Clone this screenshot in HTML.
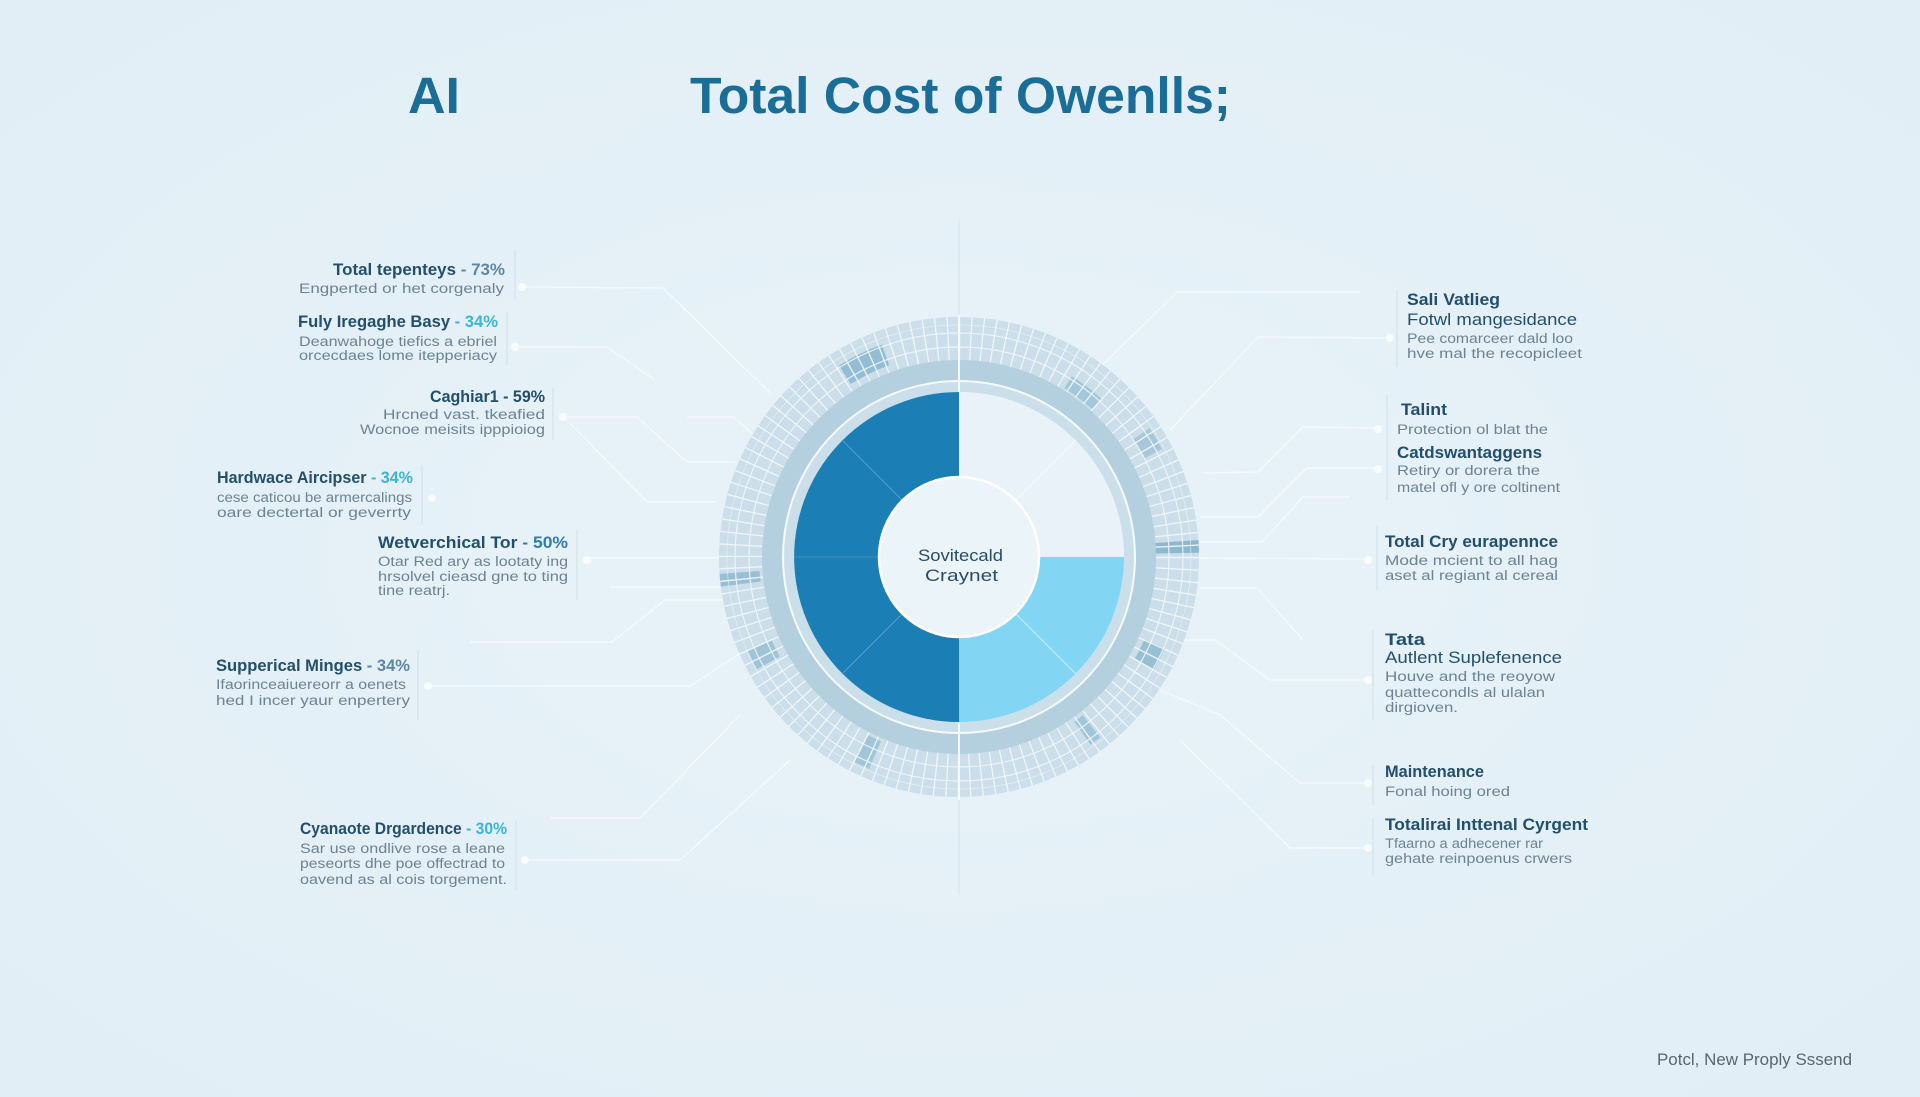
<!DOCTYPE html>
<html>
<head>
<meta charset="utf-8">
<style>
  html,body{margin:0;padding:0;background:#e4f0f7;}
  svg{display:block;}
  .h{font-family:"Liberation Sans",sans-serif;font-weight:bold;font-size:16.5px;fill:#234f6d;}
  .s{font-family:"Liberation Sans",sans-serif;font-size:13.5px;fill:#6d8292;}
  .cy{fill:#3cb4d6;}
  .dk{fill:#5c88a4;}
</style>
</head>
<body>
<svg width="1920" height="1097" viewBox="0 0 1920 1097" xmlns="http://www.w3.org/2000/svg">
  <defs>
    <radialGradient id="bg" cx="50%" cy="50%" r="70%">
      <stop offset="0" stop-color="#e8f3f9"/>
      <stop offset="1" stop-color="#e1eef5"/>
    </radialGradient>
  </defs>
  <rect width="1920" height="1097" fill="url(#bg)"/>

  <!-- Title -->
  <text x="408" y="113" textLength="52" lengthAdjust="spacingAndGlyphs" font-family="Liberation Sans, sans-serif" font-weight="bold" font-size="51" fill="#1a6d96">AI</text>
  <text x="690" y="113" textLength="541" lengthAdjust="spacingAndGlyphs" font-family="Liberation Sans, sans-serif" font-weight="bold" font-size="51" fill="#1a6d96">Total Cost of Owenlls;</text>

  <!-- faint vertical axis lines -->
  <line x1="959" y1="220" x2="959" y2="320" stroke="#d2e4ee" stroke-width="1.2"/>
  <line x1="959" y1="795" x2="959" y2="895" stroke="#d2e4ee" stroke-width="1.2"/>

  <!-- Left connectors -->
  <g fill="none" stroke="#f4f9fc" stroke-width="1.4" opacity="0.95">
    <polyline points="522,287 663,288 770,393"/>
    <polyline points="515,347 607,347 655,380"/>
    <polyline points="563,417 637,417 687,462 735,462"/>
    <polyline points="687,417 733,417 760,440"/>
    <polyline points="570,423 647,502 716,502"/>
    <polyline points="587,558 765,558"/>
    <polyline points="610,587 722,587"/>
    <polyline points="428,686 690,686 745,650"/>
    <polyline points="470,642 612,642 665,600 725,600"/>
    <polyline points="525,860 680,860 790,760"/>
    <polyline points="550,818 640,818 740,715"/>
  </g>
  <g fill="none" stroke="#cfe0ea" stroke-width="1">
    <line x1="515" y1="250" x2="515" y2="300"/>
    <line x1="507" y1="312" x2="507" y2="365"/>
    <line x1="553" y1="388" x2="553" y2="440"/>
    <line x1="422" y1="465" x2="422" y2="525"/>
    <line x1="577" y1="530" x2="577" y2="600"/>
    <line x1="418" y1="650" x2="418" y2="720"/>
    <line x1="516" y1="820" x2="516" y2="890"/>
  </g>

  <!-- Right connectors -->
  <g fill="none" stroke="#f4f9fc" stroke-width="1.4" opacity="0.95">
    <polyline points="1360,292 1177,292 1085,382"/>
    <polyline points="1390,338 1258,337 1170,430"/>
    <polyline points="1378,428 1303,427 1258,472 1203,473"/>
    <polyline points="1378,468 1307,468 1258,517 1200,517"/>
    <polyline points="1350,497 1303,497 1262,542 1200,542"/>
    <polyline points="1368,559 1157,558"/>
    <polyline points="1200,588 1257,588 1303,640"/>
    <polyline points="1368,680 1270,680 1215,640 1175,640"/>
    <polyline points="1368,783 1300,783 1220,715 1160,690"/>
    <polyline points="1368,848 1290,848 1180,740"/>
  </g>
  <g fill="none" stroke="#cfe0ea" stroke-width="1">
    <line x1="1397" y1="290" x2="1397" y2="367"/>
    <line x1="1387" y1="395" x2="1387" y2="500"/>
    <line x1="1377" y1="525" x2="1377" y2="590"/>
    <line x1="1373" y1="630" x2="1373" y2="720"/>
    <line x1="1373" y1="765" x2="1373" y2="805"/>
    <line x1="1373" y1="818" x2="1373" y2="875"/>
  </g>

  <!-- dots -->
  <g fill="#f8fcfe">
    <circle cx="522" cy="287" r="4"/>
    <circle cx="515" cy="347" r="4"/>
    <circle cx="563" cy="417" r="4"/>
    <circle cx="432" cy="498" r="4"/>
    <circle cx="587" cy="560" r="4"/>
    <circle cx="428" cy="686" r="4"/>
    <circle cx="525" cy="860" r="4"/>
    <circle cx="1390" cy="338" r="4"/>
    <circle cx="1378" cy="429" r="4"/>
    <circle cx="1378" cy="469" r="4"/>
    <circle cx="1368" cy="560" r="4"/>
    <circle cx="1368" cy="680" r="4"/>
    <circle cx="1368" cy="783" r="4"/>
    <circle cx="1368" cy="848" r="4"/>
  </g>

  <!-- Donut rings -->
  <g>
    <circle cx="959" cy="557" r="218" fill="none" stroke="#cbdee9" stroke-width="44"/>
    <g fill="none">
      <circle cx="959" cy="557" r="215" stroke="#93bdd4" stroke-width="22" pathLength="360" stroke-dasharray="12 348" transform="rotate(238 959 557)"/>
      <circle cx="959" cy="557" r="206" stroke="#a3c7da" stroke-width="14" pathLength="360" stroke-dasharray="10 350" transform="rotate(-58 959 557)"/>
      <circle cx="959" cy="557" r="220" stroke="#a6c8da" stroke-width="20" pathLength="360" stroke-dasharray="6 354" transform="rotate(-34 959 557)"/>
      <circle cx="959" cy="557" r="218" stroke="#8cb8d0" stroke-width="44" pathLength="360" stroke-dasharray="3 357" transform="rotate(-4 959 557)"/>
      <circle cx="959" cy="557" r="214" stroke="#98c0d5" stroke-width="22" pathLength="360" stroke-dasharray="6 354" transform="rotate(24 959 557)"/>
      <circle cx="959" cy="557" r="215" stroke="#a2c6d9" stroke-width="28" pathLength="360" stroke-dasharray="3 357" transform="rotate(52 959 557)"/>
      <circle cx="959" cy="557" r="215" stroke="#a2c6d9" stroke-width="30" pathLength="360" stroke-dasharray="4 356" transform="rotate(113 959 557)"/>
      <circle cx="959" cy="557" r="218" stroke="#9fc4d7" stroke-width="26" pathLength="360" stroke-dasharray="5 355" transform="rotate(151 959 557)"/>
      <circle cx="959" cy="557" r="220" stroke="#98bfd4" stroke-width="40" pathLength="360" stroke-dasharray="3 357" transform="rotate(173 959 557)"/>
    </g>
    <circle cx="959" cy="557" r="218" fill="none" stroke="#f2f8fb" stroke-width="44" pathLength="360" stroke-dasharray="0.35 2.65" opacity="0.9"/>
    <circle cx="959" cy="557" r="210" fill="none" stroke="#f2f8fb" stroke-width="1.2" opacity="0.85"/>
    <circle cx="959" cy="557" r="224" fill="none" stroke="#f2f8fb" stroke-width="1.2" opacity="0.85"/>
    <circle cx="959" cy="557" r="232" fill="none" stroke="#f2f8fb" stroke-width="0.8" opacity="0.6"/>
    <circle cx="959" cy="557" r="186" fill="none" stroke="#b4cfde" stroke-width="22"/>
    <circle cx="959" cy="557" r="170" fill="none" stroke="#cbdfea" stroke-width="10"/>
    <circle cx="959" cy="557" r="176" fill="none" stroke="#f5fafd" stroke-width="2"/>
    <line x1="959" y1="315" x2="959" y2="392" stroke="#f4f9fc" stroke-width="2"/>
    <line x1="959" y1="722" x2="959" y2="800" stroke="#f4f9fc" stroke-width="2"/>
  </g>

  <!-- Pie -->
  <path d="M959,557 L959,392 A165,165 0 0 0 959,722 Z" fill="#1b7fb5"/>
  <path d="M959,557 L959,392 A165,165 0 0 1 1124,557 Z" fill="#e8f2f8"/>
  <path d="M959,557 L1124,557 A165,165 0 0 1 959,722 Z" fill="#82d6f4"/>
  <g stroke-width="1.1">
    <line x1="902" y1="500" x2="842" y2="440" stroke="#4f9ecb"/>
    <line x1="902" y1="614" x2="842" y2="674" stroke="#4f9ecb"/>
    <line x1="879" y1="557" x2="794" y2="557" stroke="#3e92c1"/>
    <line x1="1016" y1="614" x2="1076" y2="674" stroke="#c2ecfa"/>
    <line x1="1016" y1="500" x2="1076" y2="440" stroke="#f7fbfd"/>
  </g>
  <circle cx="959" cy="557" r="80" fill="#ebf4f9" stroke="#ffffff" stroke-width="2.5"/>
  <text x="918" y="561" textLength="85" lengthAdjust="spacingAndGlyphs" font-family="Liberation Sans, sans-serif" font-size="16.5" fill="#2a4c68">Sovitecald</text>
  <text x="925" y="581" textLength="73" lengthAdjust="spacingAndGlyphs" font-family="Liberation Sans, sans-serif" font-size="16.5" fill="#2a4c68">Craynet</text>

  <!-- Left labels -->
  <text class="h" x="333" y="275" textLength="172" lengthAdjust="spacingAndGlyphs">Total tepenteys <tspan class="dk">- 73%</tspan></text>
  <text class="s" x="299" y="293" textLength="205" lengthAdjust="spacingAndGlyphs">Engperted or het corgenaly</text>

  <text class="h" x="298" y="327" textLength="200" lengthAdjust="spacingAndGlyphs">Fuly Iregaghe Basy <tspan class="cy">- 34%</tspan></text>
  <text class="s" x="299" y="346" textLength="198" lengthAdjust="spacingAndGlyphs">Deanwahoge tiefics a ebriel</text>
  <text class="s" x="299" y="360" textLength="198" lengthAdjust="spacingAndGlyphs">orcecdaes lome itepperiacy</text>

  <text class="h" x="430" y="402" textLength="115" lengthAdjust="spacingAndGlyphs">Caghiar1 - 59%</text>
  <text class="s" x="383" y="419" textLength="162" lengthAdjust="spacingAndGlyphs">Hrcned vast. tkeafied</text>
  <text class="s" x="360" y="434" textLength="185" lengthAdjust="spacingAndGlyphs">Wocnoe meisits ipppioiog</text>

  <text class="h" x="217" y="483" textLength="196" lengthAdjust="spacingAndGlyphs">Hardwace Aircipser <tspan class="cy">- 34%</tspan></text>
  <text class="s" x="217" y="502" textLength="195" lengthAdjust="spacingAndGlyphs">cese caticou be armercalings</text>
  <text class="s" x="217" y="517" textLength="194" lengthAdjust="spacingAndGlyphs">oare dectertal or geverrty</text>

  <text class="h" x="378" y="548" textLength="190" lengthAdjust="spacingAndGlyphs">Wetverchical Tor <tspan fill="#2f7fa6">- 50%</tspan></text>
  <text class="s" x="378" y="566" textLength="190" lengthAdjust="spacingAndGlyphs">Otar Red ary as lootaty ing</text>
  <text class="s" x="378" y="581" textLength="190" lengthAdjust="spacingAndGlyphs">hrsolvel cieasd gne to ting</text>
  <text class="s" x="378" y="595" textLength="72" lengthAdjust="spacingAndGlyphs">tine reatrj.</text>

  <text class="h" x="216" y="671" textLength="194" lengthAdjust="spacingAndGlyphs">Supperical Minges <tspan class="dk">- 34%</tspan></text>
  <text class="s" x="216" y="689" textLength="190" lengthAdjust="spacingAndGlyphs">Ifaorinceaiuereorr a oenets</text>
  <text class="s" x="216" y="705" textLength="194" lengthAdjust="spacingAndGlyphs">hed I incer yaur enpertery</text>

  <text class="h" x="300" y="834" textLength="207" lengthAdjust="spacingAndGlyphs">Cyanaote Drgardence <tspan class="cy">- 30%</tspan></text>
  <text class="s" x="300" y="853" textLength="205" lengthAdjust="spacingAndGlyphs">Sar use ondlive rose a leane</text>
  <text class="s" x="300" y="868" textLength="205" lengthAdjust="spacingAndGlyphs">peseorts dhe poe offectrad to</text>
  <text class="s" x="300" y="884" textLength="207" lengthAdjust="spacingAndGlyphs">oavend as al cois torgement.</text>

  <!-- Right labels -->
  <text class="h" x="1407" y="305" textLength="93" lengthAdjust="spacingAndGlyphs" font-size="15.5">Sali Vatlieg</text>
  <text class="h" x="1407" y="325" textLength="170" lengthAdjust="spacingAndGlyphs" style="font-weight:normal;fill:#234f6d;font-size:16.5px">Fotwl mangesidance</text>
  <text class="s" x="1407" y="343" textLength="166" lengthAdjust="spacingAndGlyphs">Pee comarceer dald loo</text>
  <text class="s" x="1407" y="358" textLength="175" lengthAdjust="spacingAndGlyphs">hve mal the recopicleet</text>

  <text class="h" x="1401" y="415" textLength="46" lengthAdjust="spacingAndGlyphs">Talint</text>
  <text class="s" x="1397" y="434" textLength="151" lengthAdjust="spacingAndGlyphs">Protection ol blat the</text>

  <text class="h" x="1397" y="458" textLength="145" lengthAdjust="spacingAndGlyphs">Catdswantaggens</text>
  <text class="s" x="1397" y="475" textLength="143" lengthAdjust="spacingAndGlyphs">Retiry or dorera the</text>
  <text class="s" x="1397" y="492" textLength="163" lengthAdjust="spacingAndGlyphs">matel ofl y ore coltinent</text>

  <text class="h" x="1385" y="547" textLength="173" lengthAdjust="spacingAndGlyphs">Total Cry eurapennce</text>
  <text class="s" x="1385" y="565" textLength="173" lengthAdjust="spacingAndGlyphs">Mode mcient to all hag</text>
  <text class="s" x="1385" y="580" textLength="173" lengthAdjust="spacingAndGlyphs">aset al regiant al cereal</text>

  <text class="h" x="1385" y="645" textLength="40" lengthAdjust="spacingAndGlyphs">Tata</text>
  <text class="h" x="1385" y="663" textLength="177" lengthAdjust="spacingAndGlyphs" style="font-weight:normal">Autlent Suplefenence</text>
  <text class="s" x="1385" y="681" textLength="170" lengthAdjust="spacingAndGlyphs">Houve and the reoyow</text>
  <text class="s" x="1385" y="697" textLength="160" lengthAdjust="spacingAndGlyphs">quattecondls al ulalan</text>
  <text class="s" x="1385" y="712" textLength="73" lengthAdjust="spacingAndGlyphs">dirgioven.</text>

  <text class="h" x="1385" y="777" textLength="99" lengthAdjust="spacingAndGlyphs">Maintenance</text>
  <text class="s" x="1385" y="796" textLength="125" lengthAdjust="spacingAndGlyphs">Fonal hoing ored</text>

  <text class="h" x="1385" y="830" textLength="203" lengthAdjust="spacingAndGlyphs">Totalirai Inttenal Cyrgent</text>
  <text class="s" x="1385" y="848" textLength="158" lengthAdjust="spacingAndGlyphs">Tfaarno a adhecener rar</text>
  <text class="s" x="1385" y="863" textLength="187" lengthAdjust="spacingAndGlyphs">gehate reinpoenus crwers</text>

  <!-- footer -->
  <text x="1657" y="1065" textLength="195" lengthAdjust="spacingAndGlyphs" font-family="Liberation Sans, sans-serif" font-size="17" fill="#59666f">Potcl, New Proply Sssend</text>
</svg>
</body>
</html>
